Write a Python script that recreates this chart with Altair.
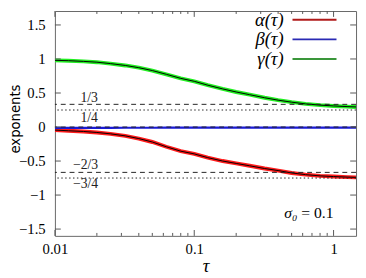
import altair as alt
import pandas as pd

# ---- data ----
tau = [0.01, 0.0125, 0.016, 0.02, 0.025, 0.032, 0.04, 0.05, 0.063, 0.08, 0.1,
       0.125, 0.16, 0.2, 0.25, 0.32, 0.4, 0.5, 0.63, 0.8, 1.0, 1.25, 1.45]
alpha = [-0.045, -0.055, -0.065, -0.08, -0.10, -0.13, -0.17, -0.22, -0.29, -0.355, -0.395,
         -0.45, -0.50, -0.535, -0.57, -0.61, -0.64, -0.675, -0.70, -0.718, -0.728, -0.736, -0.74]
beta = [-0.013, -0.013, -0.012, -0.012, -0.012, -0.011, -0.011, -0.011, -0.010, -0.010, -0.010,
        -0.009, -0.009, -0.009, -0.008, -0.008, -0.008, -0.008, -0.008, -0.008, -0.008, -0.008, -0.008]
gamma = [0.98, 0.975, 0.965, 0.953, 0.932, 0.905, 0.872, 0.83, 0.775, 0.715, 0.672,
         0.615, 0.56, 0.515, 0.475, 0.43, 0.395, 0.365, 0.34, 0.322, 0.31, 0.30, 0.295]

legend_labels = ["α(τ)", "β(τ)", "γ(τ)"]

ref_values = [1/3, 1/4, 0.0, -2/3, -3/4]
ref_styles = ["dashed", "dotted", "dashed", "dashed", "dotted"]

ref_label_text = ["1/3", "1/4", "−2/3", "−3/4"]
ref_label_x = [0.0176, 0.0176, 0.0166, 0.0166]
ref_label_y = [0.431, 0.136, -0.560, -0.833]

y_tick_values = [-1.5, -1.0, -0.5, 0.0, 0.5, 1.0, 1.5]
x_major = [0.01, 0.1, 1.0]
x_minor = [0.02, 0.03, 0.04, 0.05, 0.06, 0.07, 0.08, 0.09,
           0.2, 0.3, 0.4, 0.5, 0.6, 0.7, 0.8, 0.9]

W, H = 308, 230
SERIF = "Liberation Serif"

df = pd.DataFrame({
    "tau": tau * 3,
    "value": alpha + beta + gamma,
    "series": ["alpha"] * len(tau) + ["beta"] * len(tau) + ["gamma"] * len(tau),
})
refs = pd.DataFrame({"v": ref_values, "style": ref_styles})
ref_labels = pd.DataFrame({"t": ref_label_text, "x": ref_label_x, "y": ref_label_y})
yt = pd.DataFrame({"v": y_tick_values})
xmaj = pd.DataFrame({"v": x_major})
xmin = pd.DataFrame({"v": x_minor})

xscale = alt.Scale(type="log", domain=[0.01, 1.45], nice=False)
yscale = alt.Scale(domain=[-1.6, 1.705], nice=False, zero=False)

xaxis = alt.Axis(values=x_major, format="~g", title="τ", labelPadding=6,
                 grid=False, ticks=False, domain=False, labelFont=SERIF, labelFontSize=15,
                 labelColor="black", labelFlush=False, labelOverlap=False,
                 titleFont=SERIF, titleFontStyle="italic", titleFontSize=19,
                 titleFontWeight="normal", titleColor="black", titlePadding=0)
yaxis = alt.Axis(values=y_tick_values, format="~g", title="exponents", labelPadding=10,
                 grid=False, ticks=False, domain=False, labelFont=SERIF, labelFontSize=15,
                 labelColor="black", labelFlush=False, labelOverlap=False,
                 titleFont="DejaVu Sans", titleFontSize=13.5, titleFontWeight="normal",
                 titleColor="black", titleX=-40, titleY=110, titleAngle=-90,
                 titleBaseline="middle", titleAlign="center")


def xs(f):
    return alt.X(f, scale=xscale, axis=xaxis)


def ys(f):
    return alt.Y(f, scale=yscale, axis=yaxis)


base = alt.Chart(df)

green = base.transform_filter("datum.series == 'gamma'").mark_line(
    color="#22ee22", strokeWidth=4, clip=True).encode(x=xs("tau:Q"), y=ys("value:Q"))
red = base.transform_filter("datum.series == 'alpha'").mark_line(
    color="#ff1a1a", strokeWidth=4, clip=True).encode(x=xs("tau:Q"), y=ys("value:Q"))
blue = base.transform_filter("datum.series == 'beta'").mark_line(
    color="#1a1ad8", strokeWidth=2.2, clip=True).encode(x=xs("tau:Q"), y=ys("value:Q"))
theory = base.transform_filter("datum.series != 'beta'").mark_line(
    color="black", strokeWidth=1, clip=True).encode(x=xs("tau:Q"), y=ys("value:Q"),
                                                     detail="series:N")

ref_rules = alt.Chart(refs).mark_rule(color="#222222", strokeWidth=1).encode(
    y=ys("v:Q"),
    strokeDash=alt.StrokeDash("style:N", scale=alt.Scale(domain=["dashed", "dotted"],
                                                         range=[[5, 4], [1.5, 2.5]]),
                              legend=None),
)
ref_text = alt.Chart(ref_labels).mark_text(font=SERIF, fontSize=14, baseline="middle",
                                           align="center", color="#222222").encode(
    x=xs("x:Q"), y=ys("y:Q"), text="t:N")

# inward ticks (gnuplot style)
tick_color = "#555555"
yl = alt.Chart(yt).mark_rule(color=tick_color).encode(
    y=ys("v:Q"), x=alt.value(0), x2=alt.value(6))
yr = alt.Chart(yt).mark_rule(color=tick_color).encode(
    y=ys("v:Q"), x=alt.value(W - 6), x2=alt.value(W))
xb = alt.Chart(xmaj).mark_rule(color=tick_color).encode(
    x=xs("v:Q"), y=alt.value(H - 6), y2=alt.value(H))
xt = alt.Chart(xmaj).mark_rule(color=tick_color).encode(
    x=xs("v:Q"), y=alt.value(0), y2=alt.value(6))
xbm = alt.Chart(xmin).mark_rule(color=tick_color).encode(
    x=xs("v:Q"), y=alt.value(H - 3), y2=alt.value(H))
xtm = alt.Chart(xmin).mark_rule(color=tick_color).encode(
    x=xs("v:Q"), y=alt.value(0), y2=alt.value(3))

# legend drawn by hand
legend_colors = ["#b01a1a", "#2a2ab4", "#3a963a"]
legend_rows = [9, 29, 49]
legend_layers = []
for lab, col, ry in zip(legend_labels, legend_colors, legend_rows):
    legend_layers.append(alt.Chart(pd.DataFrame({"t": [lab]})).mark_text(
        font=SERIF, fontStyle="italic", fontSize=19, align="right", baseline="middle",
        color="black").encode(x=alt.value(234), y=alt.value(ry), text="t:N"))
    legend_layers.append(alt.Chart(pd.DataFrame({"t": [lab]})).mark_rule(
        color=col, strokeWidth=2).encode(x=alt.value(243), x2=alt.value(288), y=alt.value(ry)))

sigma_a = alt.Chart(pd.DataFrame({"t": ["σ₀"]})).mark_text(
    font=SERIF, fontStyle="italic", fontSize=16, align="right", baseline="middle",
    color="black").encode(x=alt.value(248), y=alt.value(207), text="t:N")
sigma_b = alt.Chart(pd.DataFrame({"t": ["= 0.1"]})).mark_text(
    font=SERIF, fontSize=16, align="right", baseline="middle",
    color="black").encode(x=alt.value(285), y=alt.value(207), text="t:N")

chart = alt.layer(
    green, red, blue, theory, ref_rules, ref_text,
    yl, yr, xb, xt, xbm, xtm, *legend_layers, sigma_a, sigma_b
).properties(
    width=W, height=H,
    autosize=alt.AutoSizeParams(type="none"),
    padding={"left": 48, "top": 0, "right": 2, "bottom": 40},
    background="white",
).configure_view(
    stroke="#666666", strokeWidth=1
)

chart.save("out.html", embed_options={"renderer": "svg", "actions": False})
